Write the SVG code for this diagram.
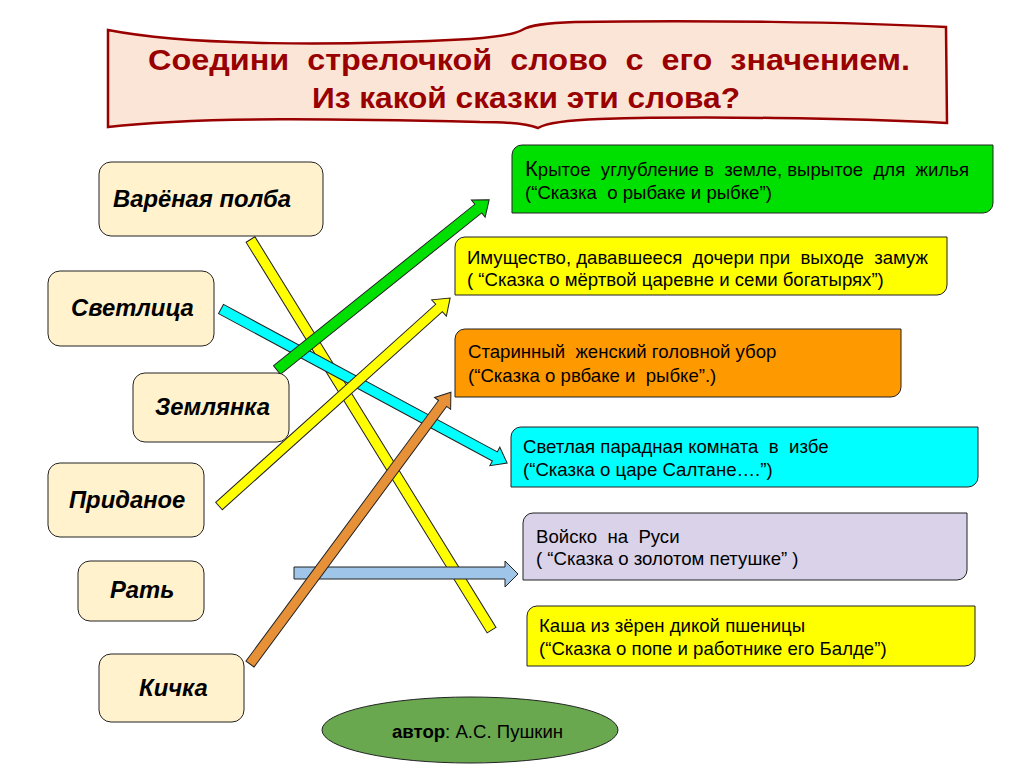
<svg xmlns="http://www.w3.org/2000/svg" width="1013" height="771" viewBox="0 0 1013 771">
<style>
  text { font-family: "Liberation Sans", Arial, sans-serif; white-space: pre; }
  .title { font-size: 29px; font-weight: bold; fill: #990000; text-anchor: middle; }
  .lbox { fill: #FFF2CC; stroke: #222; stroke-width: 1; }
  .ltxt { font-size: 23.8px; font-weight: bold; font-style: italic; fill: #000; }
  .rbox { stroke: #222; stroke-width: 1; }
  .rtxt { font-size: 18.6px; fill: #000; }
  .arr { stroke: #222; stroke-width: 1; stroke-linejoin: miter; }
</style>

<g id="title">
  <path d="M108,30 C190,46 340,46 470,39 C500,37 515,34 522,30 C530,25 545,23 575,22 C700,20 850,22 946,27 L947,123 C850,118 700,116 600,119 C570,120 548,122 538,128 C528,124 510,122 480,122 C350,119 200,116 108,127 Z" fill="#FBE5D6" stroke="#990000" stroke-width="2.5"/>
  <text class="title" x="529" y="70" textLength="762" lengthAdjust="spacingAndGlyphs" xml:space="preserve">Соедини  стрелочкой  слово  с  его  значением.</text>
  <text class="title" x="526" y="108" textLength="428" lengthAdjust="spacingAndGlyphs">Из какой сказки эти слова?</text>
</g>

<g id="connectors">
  <polygon class="arr" fill="#FFFF00" transform="translate(250.5,239.5) rotate(58.32)" points="0,-5.2 459,-5.2 459,5.2 0,5.2"/>
  <polygon class="arr" fill="#00FFFF" transform="translate(221,309) rotate(28.3)" points="0,-5.2 311,-5.2 311,-10.5 325,0 311,10.5 311,5.2 0,5.2"/>
  <polygon class="arr" fill="#00E000" transform="translate(277,370) rotate(-38.73)" points="0,-5.5 258,-5.5 258,-11 272,0 258,11 258,5.5 0,5.5"/>
  <polygon class="arr" fill="#FFFF00" transform="translate(219,506) rotate(-41.99)" points="0,-5 296,-5 296,-11 311,0 296,11 296,5 0,5"/>
  <polygon class="arr" fill="#9FC5E8" points="294,567 505,567 505,561 518,574 505,587 505,579 294,579"/>
  <polygon class="arr" fill="#E69138" transform="translate(250,664) rotate(-53.53)" points="0,-5 324,-5 324,-10 338,0 324,10 324,5 0,5"/>
</g>

<g id="n-polba">
  <rect class="lbox" x="99" y="162" width="224" height="74" rx="12"/>
  <text class="ltxt" x="113" y="207">Варёная полба</text>
</g>
<g id="n-svetlica">
  <rect class="lbox" x="48" y="271" width="166" height="75" rx="12"/>
  <text class="ltxt" x="71" y="316">Светлица</text>
</g>
<g id="n-zemlyanka">
  <rect class="lbox" x="133" y="373" width="156" height="69" rx="12"/>
  <text class="ltxt" x="155" y="415">Землянка</text>
</g>
<g id="n-pridanoe">
  <rect class="lbox" x="48" y="463" width="156" height="74" rx="12"/>
  <text class="ltxt" x="69" y="508">Приданое</text>
</g>
<g id="n-rat">
  <rect class="lbox" x="78" y="561" width="126" height="60" rx="12"/>
  <text class="ltxt" x="110" y="598">Рать</text>
</g>
<g id="n-kichka">
  <rect class="lbox" x="99" y="654" width="145" height="68" rx="12"/>
  <text class="ltxt" x="139" y="696">Кичка</text>
</g>

<g id="d-zemlyanka">
  <path class="rbox" fill="#00E000" d="M522,145 H993 V203 A10,10 0 0 1 983,213 H512 V155 A10,10 0 0 1 522,145 Z"/>
  <text class="rtxt" x="525" y="176" xml:space="preserve"><tspan font-size="22">К</tspan>рытое  углубление в  земле, вырытое  для  жилья</text>
  <text class="rtxt" x="525" y="199" xml:space="preserve">(“Сказка  о рыбаке и рыбке”)</text>
</g>
<g id="d-pridanoe">
  <path class="rbox" fill="#FFFF00" d="M465,237 H947 V285 A10,10 0 0 1 937,295 H455 V247 A10,10 0 0 1 465,237 Z"/>
  <text class="rtxt" x="467" y="264" xml:space="preserve">Имущество, дававшееся  дочери при  выходе  замуж</text>
  <text class="rtxt" x="467" y="286" xml:space="preserve">( “Сказка о мёртвой царевне и семи богатырях”)</text>
</g>
<g id="d-kichka">
  <path class="rbox" fill="#FF9900" d="M465,329 H901 V387 A10,10 0 0 1 891,397 H455 V339 A10,10 0 0 1 465,329 Z"/>
  <text class="rtxt" x="468" y="358" xml:space="preserve">Старинный  женский головной убор</text>
  <text class="rtxt" x="468" y="382" xml:space="preserve">(“Сказка о рвбаке и  рыбке”.)</text>
</g>
<g id="d-svetlica">
  <path class="rbox" fill="#00FFFF" d="M521,427 H978 V477 A10,10 0 0 1 968,487 H511 V437 A10,10 0 0 1 521,427 Z"/>
  <text class="rtxt" x="523" y="453" xml:space="preserve">Светлая парадная комната  в  избе</text>
  <text class="rtxt" x="523" y="476" xml:space="preserve">(“Сказка о царе Салтане….”)</text>
</g>
<g id="d-rat">
  <path class="rbox" fill="#D9D2E9" d="M533,513 H967 V570 A10,10 0 0 1 957,580 H523 V523 A10,10 0 0 1 533,513 Z"/>
  <text class="rtxt" x="536" y="543" xml:space="preserve">Войско  на  Руси</text>
  <text class="rtxt" x="536" y="565" xml:space="preserve">( “Сказка о золотом петушке” )</text>
</g>
<g id="d-polba">
  <path class="rbox" fill="#FFFF00" d="M537,606 H975 V656 A10,10 0 0 1 965,666 H527 V616 A10,10 0 0 1 537,606 Z"/>
  <text class="rtxt" x="539" y="632" xml:space="preserve">Каша из зёрен дикой пшеницы</text>
  <text class="rtxt" x="539" y="655" xml:space="preserve">(“Сказка о попе и работнике его Балде”)</text>
</g>

<g id="author">
  <ellipse cx="470" cy="730" rx="148" ry="33" fill="#6AA84F" stroke="#222" stroke-width="1"/>
  <text class="rtxt" x="392" y="738"><tspan font-weight="bold">автор</tspan>: А.С. Пушкин</text>
</g>
</svg>
